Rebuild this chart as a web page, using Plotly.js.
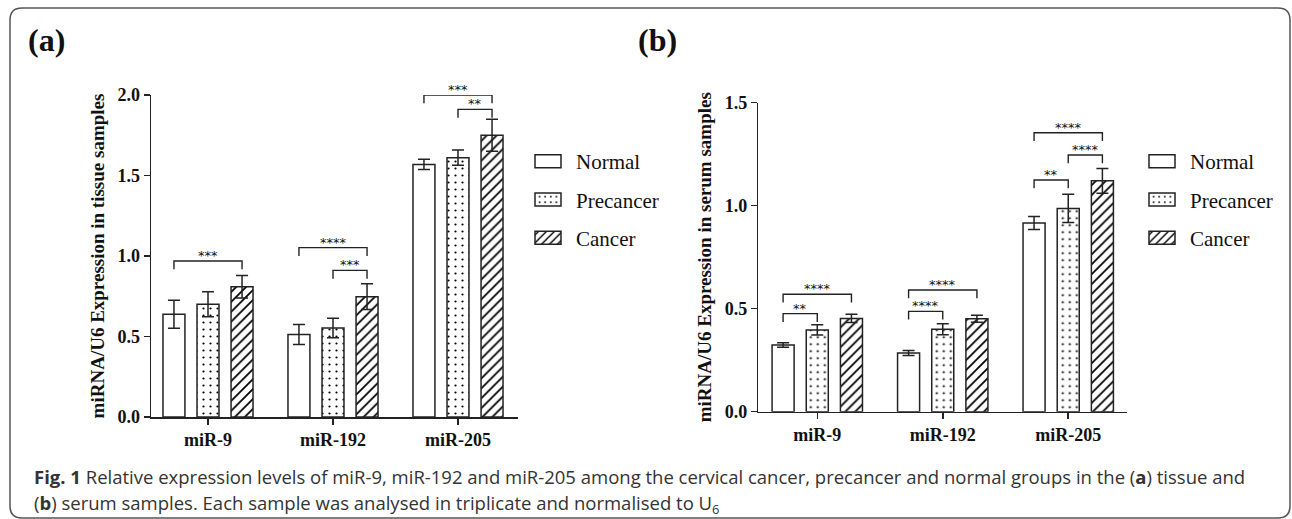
<!DOCTYPE html>
<html>
<head>
<meta charset="utf-8">
<script src="https://cdn.plot.ly/plotly-3.0.1.min.js"></script>
<style>
html,body{margin:0;padding:0;background:#fff;}
#chart{width:1292px;height:519px;}
</style>
</head>
<body>
<div id="chart"></div>
<script>
// ---------- data ----------
const categories = ['miR-9', 'miR-192', 'miR-205'];
const groups = ['Normal', 'Precancer', 'Cancer'];

// (a) tissue samples
const tissueNormal = [0.638, 0.513, 1.569];
const tissueNormalErr = [0.087, 0.062, 0.032];
const tissuePrecancer = [0.700, 0.553, 1.611];
const tissuePrecancerErr = [0.078, 0.060, 0.047];
const tissueCancer = [0.809, 0.747, 1.750];
const tissueCancerErr = [0.070, 0.080, 0.100];

// (b) serum samples
const serumNormal = [0.324, 0.285, 0.916];
const serumNormalErr = [0.011, 0.012, 0.032];
const serumPrecancer = [0.397, 0.400, 0.987];
const serumPrecancerErr = [0.025, 0.027, 0.068];
const serumCancer = [0.453, 0.451, 1.121];
const serumCancerErr = [0.020, 0.017, 0.060];

// significance brackets: category index, from group, to group, level, label
const tissueBracketCat = [0, 1, 1, 2, 2];
const tissueBracketFrom = [0, 0, 1, 0, 1];
const tissueBracketTo = [2, 2, 2, 2, 2];
const tissueBracketLevel = [0.969, 1.052, 0.911, 2.0, 1.911];
const tissueBracketLabel = ['***', '****', '***', '***', '**'];

const serumBracketCat = [0, 0, 1, 1, 2, 2, 2];
const serumBracketFrom = [0, 0, 0, 0, 0, 0, 1];
const serumBracketTo = [2, 1, 2, 1, 2, 1, 2];
const serumBracketLevel = [0.570, 0.476, 0.591, 0.487, 1.354, 1.125, 1.246];
const serumBracketLabel = ['****', '**', '****', '****', '****', '**', '****'];

const yTickLabels = ['0.0', '0.5', '1.0', '1.5', '2.0'];
const yTickValues = [0, 0.5, 1.0, 1.5, 2.0];

const captionLine1 = '<b>Fig. 1</b> Relative expression levels of miR-9, miR-192 and miR-205 among the cervical cancer, precancer and normal groups in the (<b>a</b>) tissue and';
const captionLine2 = '(<b>b</b>) serum samples. Each sample was analysed in triplicate and normalised to U<sub>6</sub>';

// ---------- styles ----------
const BARGAP = 0.183, BARGROUPGAP = 0.355;
const slot = (1 - BARGAP) / groups.length;
const ink = '#222';
const serif = 'Liberation Serif, Times New Roman, serif';
const patterns = [
  {shape: '', fillmode: 'overlay'},
  {shape: '.', fgcolor: '#000', fgopacity: 1, bgcolor: 'white', size: 7, solidity: 0.08, fillmode: 'overlay'},
  {shape: '/', fgcolor: '#000', fgopacity: 1, bgcolor: 'white', size: 7, solidity: 0.25, fillmode: 'overlay'}
];
const catIdx = categories.map((c, i) => i);

function barTrace(name, gi, y, err, xa, ya, legend) {
  return {
    type: 'bar', name: name, x: catIdx, y: y,
    xaxis: xa, yaxis: ya, legend: legend, legendgroup: legend + name,
    marker: {color: 'white', line: {color: ink, width: 1.5}, pattern: patterns[gi]},
    error_y: {type: 'data', array: err, visible: true, color: ink, thickness: 1.5, width: 6},
    hoverinfo: 'skip'
  };
}

function bracketTrace(cats, from, to, level, drop, xa, ya) {
  const xs = [], ys = [];
  for (let i = 0; i < cats.length; i++) {
    const x1 = cats[i] + (from[i] - 1) * slot;
    const x2 = cats[i] + (to[i] - 1) * slot;
    xs.push(x1, x1, x2, x2, null);
    ys.push(level[i] - drop, level[i], level[i], level[i] - drop, null);
  }
  return {type: 'scatter', mode: 'lines', x: xs, y: ys, xaxis: xa, yaxis: ya,
    line: {color: ink, width: 1.4}, cliponaxis: false, showlegend: false, hoverinfo: 'skip'};
}

function bracketLabels(cats, from, to, level, labels, xa, ya) {
  return cats.map((c, i) => ({
    x: c + ((from[i] + to[i]) / 2 - 1) * slot, y: level[i],
    xref: xa, yref: ya, text: labels[i], showarrow: false,
    yanchor: 'bottom', yshift: -4,
    font: {family: 'DejaVu Sans, sans-serif', size: 13, color: '#111'}
  }));
}

const traces = [
  barTrace(groups[0], 0, tissueNormal, tissueNormalErr, 'x', 'y', 'legend'),
  barTrace(groups[1], 1, tissuePrecancer, tissuePrecancerErr, 'x', 'y', 'legend'),
  barTrace(groups[2], 2, tissueCancer, tissueCancerErr, 'x', 'y', 'legend'),
  barTrace(groups[0], 0, serumNormal, serumNormalErr, 'x2', 'y2', 'legend2'),
  barTrace(groups[1], 1, serumPrecancer, serumPrecancerErr, 'x2', 'y2', 'legend2'),
  barTrace(groups[2], 2, serumCancer, serumCancerErr, 'x2', 'y2', 'legend2'),
  bracketTrace(tissueBracketCat, tissueBracketFrom, tissueBracketTo, tissueBracketLevel, 0.052, 'x', 'y'),
  bracketTrace(serumBracketCat, serumBracketFrom, serumBracketTo, serumBracketLevel, 0.04, 'x2', 'y2')
];

const W = 1292, H = 519;
const px = v => v / W, py = v => 1 - v / H;

const axisCommon = {
  showline: true, linecolor: ink, linewidth: 1.5, ticks: 'outside', ticklen: 6,
  tickwidth: 1.5, tickcolor: ink, showgrid: false, zeroline: false, fixedrange: true,
  tickfont: {family: serif, size: 18, color: '#111', weight: 'bold'}
};
const titleFont = {family: serif, size: 19, color: '#111', weight: 'bold'};
const legendCommon = {
  font: {family: serif, size: 21, color: '#111'}, bgcolor: 'rgba(0,0,0,0)',
  tracegroupgap: 8, xanchor: 'left', yanchor: 'top', traceorder: 'grouped',
  itemwidth: 46, itemclick: false
};

// rounded frame
const fl = px(10), fr = px(1290), ft = py(8), fb = py(518);
const rx = px(12), ry = 12 / H;
const framePath = `M${fl},${fb + ry} L${fl},${ft - ry} Q${fl},${ft} ${fl + rx},${ft} L${fr - rx},${ft} Q${fr},${ft} ${fr},${ft - ry} L${fr},${fb + ry} Q${fr},${fb} ${fr - rx},${fb} L${fl + rx},${fb} Q${fl},${fb} ${fl},${fb + ry} Z`;

const layout = {
  width: W, height: H, margin: {l: 0, r: 0, t: 0, b: 0},
  paper_bgcolor: 'white', plot_bgcolor: 'rgba(0,0,0,0)',
  barmode: 'group', bargap: BARGAP, bargroupgap: BARGROUPGAP,
  showlegend: true,
  xaxis: Object.assign({}, axisCommon, {domain: [px(151), px(518)], anchor: 'y',
    range: [-0.456, 2.48], tickvals: catIdx, ticktext: categories}),
  yaxis: Object.assign({}, axisCommon, {domain: [py(417), py(95)], anchor: 'x',
    range: [0, 2.0], tickvals: yTickValues, ticktext: yTickLabels,
    title: {text: 'miRNA/U6 Expression in tissue samples', font: titleFont, standoff: 8}}),
  xaxis2: Object.assign({}, axisCommon, {domain: [px(758.3), px(1126.7)], anchor: 'y2',
    range: [-0.47, 2.466], tickvals: catIdx, ticktext: categories}),
  yaxis2: Object.assign({}, axisCommon, {domain: [py(411.7), py(102.7)], anchor: 'x2',
    range: [0, 1.5], tickvals: yTickValues.slice(0, 4), ticktext: yTickLabels.slice(0, 4),
    title: {text: 'miRNA/U6 Expression in serum samples', font: titleFont, standoff: 8}}),
  legend: Object.assign({}, legendCommon, {x: px(520), y: py(141)}),
  legend2: Object.assign({}, legendCommon, {x: px(1134), y: py(141)}),
  shapes: [{type: 'path', xref: 'paper', yref: 'paper', path: framePath,
    line: {color: '#555', width: 1.5}, fillcolor: 'rgba(0,0,0,0)', layer: 'below'}],
  annotations: [].concat(
    bracketLabels(tissueBracketCat, tissueBracketFrom, tissueBracketTo, tissueBracketLevel, tissueBracketLabel, 'x', 'y'),
    bracketLabels(serumBracketCat, serumBracketFrom, serumBracketTo, serumBracketLevel, serumBracketLabel, 'x2', 'y2'),
    [
      {xref: 'paper', yref: 'paper', x: px(46), y: py(40), text: '<b>(a)</b>', showarrow: false,
        xanchor: 'center', yanchor: 'middle', font: {family: serif, size: 32, color: '#111'}},
      {xref: 'paper', yref: 'paper', x: px(657), y: py(40), text: '<b>(b)</b>', showarrow: false,
        xanchor: 'center', yanchor: 'middle', font: {family: serif, size: 32, color: '#111'}},
      {xref: 'paper', yref: 'paper', x: px(32), y: py(476), text: captionLine1, showarrow: false,
        xanchor: 'left', yanchor: 'middle', font: {family: 'Open Sans, sans-serif', size: 18.5, color: '#333'}},
      {xref: 'paper', yref: 'paper', x: px(32), y: py(504), text: captionLine2, showarrow: false,
        xanchor: 'left', yanchor: 'middle', font: {family: 'Open Sans, sans-serif', size: 18.5, color: '#333'}}
    ]
  )
};

Plotly.newPlot('chart', traces, layout, {staticPlot: true, displayModeBar: false}).then(gd => {
  // widen legend swatches to match the reference's rectangular keys
  gd.querySelectorAll('.legendpoints path').forEach(p => {
    p.setAttribute('d', 'M13,6.5H-13V-6.5H13Z');
  });
});
</script>
</body>
</html>
